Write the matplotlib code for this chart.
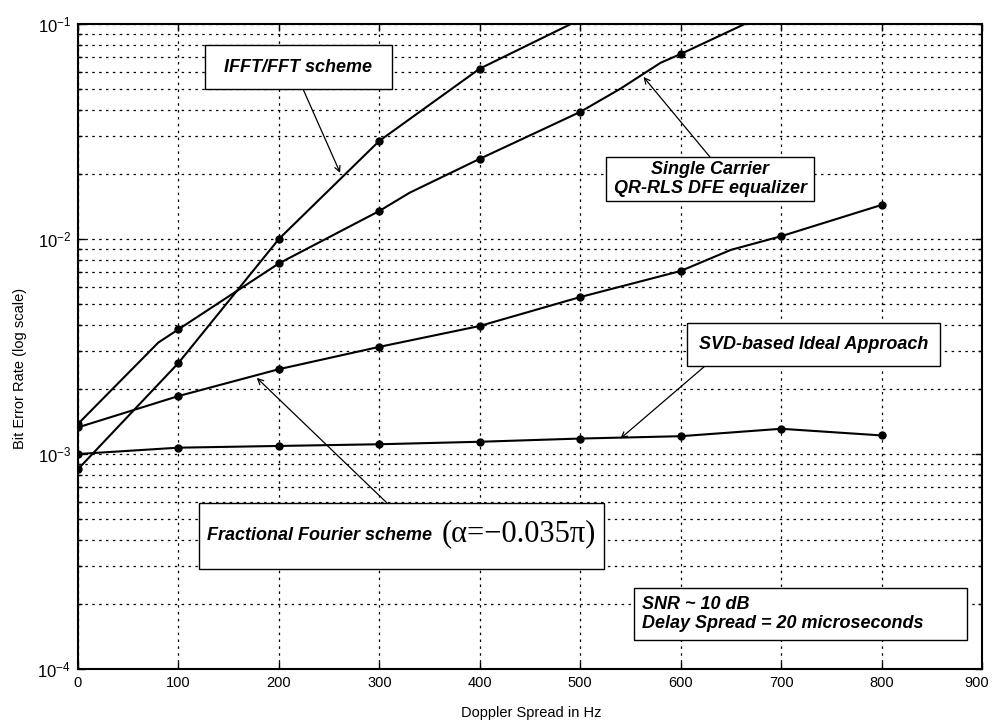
import matplotlib
matplotlib.use("Agg")
import matplotlib.pyplot as plt
import matplotlib.transforms as mtransforms
from matplotlib.patches import Rectangle
from matplotlib.ticker import NullLocator, LogLocator

plt.rcParams['font.family'] = ['Liberation Sans', 'DejaVu Sans']
plt.rcParams['axes.unicode_minus'] = False

# значения, x - доплеровское рассеяние в Гц
# IFFT/FFT scheme (последняя точка уходит за верх графика)
fft_x = [0, 100, 200, 300, 400, 500]
fft_ber = [8.5e-4, 2.65e-3, 1.0e-2, 2.86e-2, 6.2e-2, 1.05e-1]

# Single Carrier QR-RLS DFE, у линии есть изломы без маркеров
qr_x = [0, 80, 100, 200, 300, 330, 400, 500, 540, 580, 600, 700]
qr_ber = [1.38e-3, 3.3e-3, 3.8e-3, 7.7e-3, 1.35e-2, 1.64e-2, 2.36e-2,
          3.9e-2, 5.0e-2, 6.6e-2, 7.25e-2, 1.2e-1]

# Fractional Fourier scheme
frft_x = [0, 100, 200, 300, 400, 500, 600, 650, 700, 800]
frft_ber = [1.33e-3, 1.86e-3, 2.48e-3, 3.15e-3, 3.94e-3, 5.37e-3,
            7.1e-3, 8.9e-3, 1.03e-2, 1.44e-2]

# SVD-based ideal approach
svd_x = [0, 100, 200, 300, 400, 500, 600, 700, 800]
svd_ber = [1.0e-3, 1.07e-3, 1.09e-3, 1.11e-3, 1.14e-3, 1.18e-3,
           1.21e-3, 1.31e-3, 1.22e-3]

xticks = [0, 100, 200, 300, 400, 500, 600, 700, 800, 900]

W, H = 992, 724
fig = plt.figure(figsize=(W / 100, H / 100), dpi=100)
# оси ставим по пикселям оригинала
ax = fig.add_axes([78 / W, 1 - 669 / H, 904 / W, 645 / H])


def curve(xs, ys):
    # маркеры только на точках кратных 100 Гц
    marks = [x % 100 == 0 for x in xs]
    ax.plot(xs, ys, color='k', lw=1.5, marker='o', ms=5,
            markevery=marks, zorder=3)


curve(fft_x, fft_ber)
curve(qr_x, qr_ber)
curve(frft_x, frft_ber)
curve(svd_x, svd_ber)

ax.set_yscale('log')
ax.set_xlim(0, 900)
ax.set_ylim(1e-4, 1e-1)
ax.set_xticks(xticks)
ax.xaxis.set_minor_locator(NullLocator())
ax.yaxis.set_minor_locator(LogLocator(base=10, subs=range(2, 10)))

dots = (0, (2, 3.5))
ax.grid(True, which='major', ls=dots, lw=0.9, color='k')
ax.grid(True, which='minor', axis='y', ls=dots, lw=0.9, color='k')
ax.set_axisbelow(True)

ax.tick_params(which='both', direction='in', top=True, right=True,
               width=1)
ax.tick_params(axis='x', labelsize=10.5)
ax.tick_params(axis='y', labelsize=12)
ax.tick_params(which='major', length=5, pad=5)
ax.tick_params(which='minor', length=3)
for s in ax.spines.values():
    s.set_linewidth(1.5)

# "900" на самом краю - чуть сдвигаем влево, чтобы не обрезалось
fig.canvas.draw()
last = ax.get_xticklabels()[-1]
last.set_transform(last.get_transform() +
                   mtransforms.ScaledTranslation(-4 / 72, 0, fig.dpi_scale_trans))

fig.text(20 / W, 1 - 368 / H, 'Bit Error Rate (log scale)', rotation=90,
         ha='center', va='center', fontsize=10.5)
fig.text(531 / W, 1 - 713 / H, 'Doppler Spread in Hz', ha='center',
         va='center', fontsize=10.5)

lab = dict(fontsize=13, fontweight='bold', fontstyle='italic', zorder=6)


def box(px0, py0, px1, py1):
    # рамка подписи, координаты в пикселях картинки
    x0 = (px0 - 78) / 904
    y0 = (669 - py1) / 645
    r = Rectangle((x0, y0), (px1 - px0) / 904, (py1 - py0) / 645,
                  transform=ax.transAxes, facecolor='white',
                  edgecolor='k', lw=1, zorder=5)
    ax.add_patch(r)


def af(px, py):
    return ((px - 78) / 904, (669 - py) / 645)


def arrow(tip, tail_px):
    ax.annotate('', xy=tip, xycoords='data', xytext=af(*tail_px),
                textcoords='axes fraction', zorder=4,
                arrowprops=dict(arrowstyle='->', lw=0.9, color='k',
                                shrinkA=0, shrinkB=0, mutation_scale=10))


# IFFT/FFT
box(205, 45, 392, 89)
ax.text(*af(298, 67), 'IFFT/FFT scheme', transform=ax.transAxes,
        ha='center', va='center', **lab)
arrow((261, 0.0203), (303, 89))

# Single carrier
box(606, 157, 814, 201)
ax.text(*af(710, 179), 'Single Carrier\nQR-RLS DFE equalizer',
        transform=ax.transAxes, ha='center', va='center',
        linespacing=1.15, **lab)
arrow((563, 0.0567), (710, 157))

# SVD
box(687, 323, 940, 366)
ax.text(*af(699, 344), 'SVD-based Ideal Approach', transform=ax.transAxes,
        ha='left', va='center', **lab)
arrow((540, 1.18e-3), (705, 366))

# Fractional Fourier
box(199, 503, 604, 569)
ax.text(*af(207, 536), 'Fractional Fourier scheme', transform=ax.transAxes,
        ha='left', va='center', **lab)
ax.text(*af(442, 534), '(\u03b1=\u22120.035\u03c0)', transform=ax.transAxes,
        ha='left', va='center', fontsize=22, zorder=6,
        family=['Liberation Serif', 'DejaVu Serif'])
arrow((178, 2.26e-3), (387, 503))

# SNR
box(634, 588, 967, 640)
ax.text(*af(642, 614), 'SNR ~ 10 dB\nDelay Spread = 20 microseconds',
        transform=ax.transAxes, ha='left', va='center', linespacing=1.1,
        **lab)

fig.savefig('out.png', dpi=100)
